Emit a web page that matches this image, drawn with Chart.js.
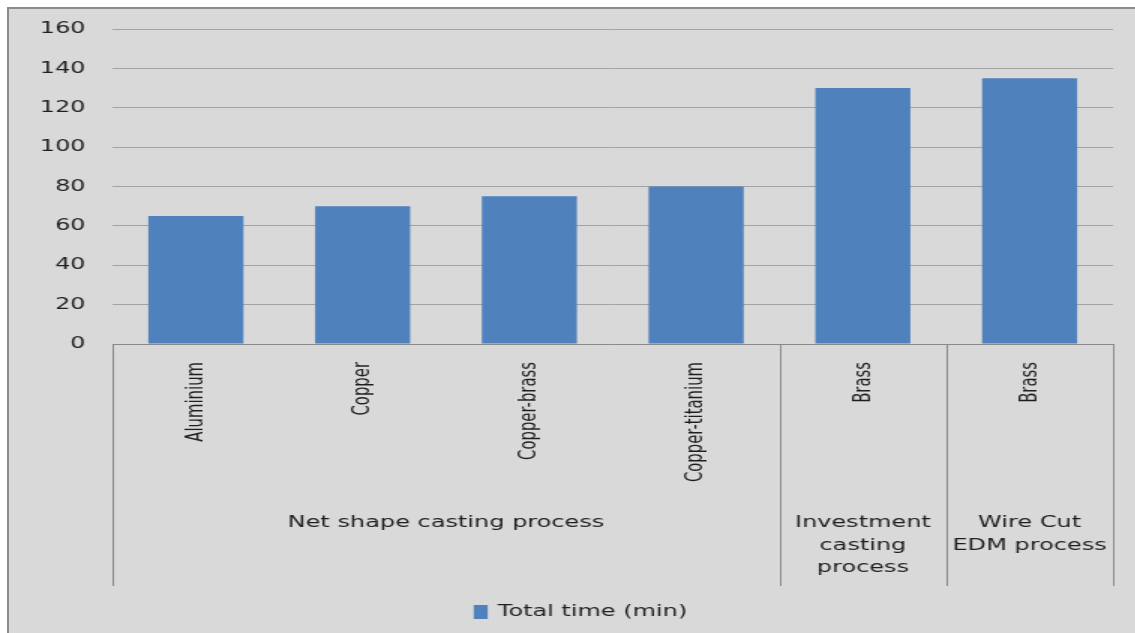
<!DOCTYPE html>
<html>
<head>
<meta charset="utf-8">
<script src="https://cdn.jsdelivr.net/npm/chart.js@4"></script>
<style>
  html, body { margin: 0; padding: 0; background: #ffffff; overflow: hidden; }
  #frame {
    position: absolute; left: 7px; top: 7px;
    width: 1140px; height: 640px;
    background: #d9d9d9;
    border-left: 2px solid #8c8c8c;
    border-top: 2px solid #8c8c8c;
  }
  #chart { display: block; }
</style>
</head>
<body>
<div id="frame"><canvas id="chart" width="750" height="624" style="width:1125px;height:624px"></canvas></div>
<script>
var categories = ['Aluminium', 'Copper', 'Copper-brass', 'Copper-titanium', 'Brass', 'Brass'];
var totalTime = [65, 70, 75, 80, 130, 135];
var seriesName = 'Total time (min)';
var groupLabels = [['Net shape casting process'], ['Investment', 'casting', 'process'], ['Wire Cut', 'EDM process']];
var groupSizes = [4, 1, 1];

var barColor = '#4f81bd';
var textColor = '#1f1f1f';
var lineColor = '#8a8a8a';

// second row of the category axis plus the legend under it
var groupAxis = {
    id: 'groupAxis',
    afterDraw: function (chart) {
        var ctx = chart.ctx;
        var x = chart.scales.x;
        var area = chart.chartArea;
        var top = x.top, bottom = x.bottom;

        function edge(i) {
            if (i <= 0) return area.left;
            if (i >= categories.length) return area.right;
            return (x.getPixelForValue(i - 1) + x.getPixelForValue(i)) / 2;
        }

        ctx.save();
        ctx.strokeStyle = lineColor;
        ctx.lineWidth = 1;
        ctx.beginPath();
        ctx.moveTo(area.left, top + 0.5);
        ctx.lineTo(area.right, top + 0.5);
        var start = 0;
        var cuts = [0];
        groupSizes.forEach(function (n) { start += n; cuts.push(start); });
        cuts.forEach(function (i) {
            var px = Math.round(edge(i)) + 0.5;
            ctx.moveTo(px, top);
            ctx.lineTo(px, bottom);
        });
        ctx.stroke();

        ctx.fillStyle = textColor;
        ctx.font = '16.5px "DejaVu Sans Condensed", sans-serif';
        ctx.textAlign = 'right';
        ctx.textBaseline = 'middle';
        categories.forEach(function (name, i) {
            ctx.save();
            ctx.translate(x.getPixelForValue(i), top + 18);
            ctx.rotate(-Math.PI / 2);
            ctx.fillText(name, 0, 0);
            ctx.restore();
        });

        ctx.font = '16px "DejaVu Sans", sans-serif';
        ctx.textAlign = 'center';
        var from = 0;
        groupLabels.forEach(function (lines, g) {
            var to = from + groupSizes[g];
            var cx = (edge(from) + edge(to)) / 2;
            lines.forEach(function (line, k) {
                ctx.fillText(line, cx, top + 179 + k * 22.5);
            });
            from = to;
        });

        // legend
        var tw = ctx.measureText(seriesName).width;
        var lw = 9.3 + 6.7 + tw;
        var lx = chart.width / 2 - lw / 2 + 6;
        var ly = bottom + 26;
        ctx.fillStyle = barColor;
        ctx.fillRect(lx, ly - 7, 9.3, 14);
        ctx.fillStyle = textColor;
        ctx.textAlign = 'left';
        ctx.fillText(seriesName, lx + 16, ly);
        ctx.restore();
    }
};

var chart = new Chart(document.getElementById('chart'), {
    type: 'bar',
    data: {
        labels: categories,
        datasets: [{
            label: seriesName,
            data: totalTime,
            backgroundColor: barColor,
            borderWidth: 0,
            barPercentage: 0.57,
            categoryPercentage: 1
        }]
    },
    options: {
        responsive: false,
        animation: false,
        layout: { padding: { left: 0, top: 20, right: 14, bottom: 47 } },
        plugins: {
            tooltip: { enabled: false },
            legend: { display: false }
        },
        scales: {
            x: {
                ticks: { display: false },
                grid: { display: false },
                border: { display: false },
                afterFit: function (scale) { scale.height = 242; }
            },
            y: {
                min: 0,
                max: 160,
                ticks: {
                    stepSize: 20,
                    padding: 18,
                    color: textColor,
                    font: { family: 'DejaVu Sans', size: 16 }
                },
                grid: { color: '#a3a3a3', lineWidth: 1, drawTicks: false },
                border: { display: false },
                afterFit: function (scale) {
                    scale.width = 69;
                    scale.paddingTop = 0;
                    scale.paddingBottom = 0;
                }
            }
        }
    },
    plugins: [groupAxis]
});
</script>
</body>
</html>
